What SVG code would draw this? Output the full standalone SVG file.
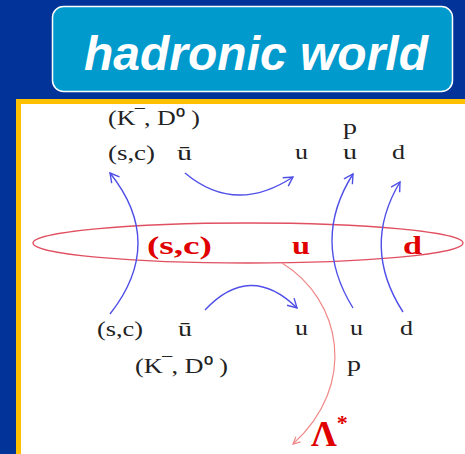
<svg xmlns="http://www.w3.org/2000/svg" width="465" height="454" viewBox="0 0 465 454">
<defs>
<style>
.q{font-family:"Liberation Serif","Times New Roman",serif;font-size:20px;fill:#222;}
.r{font-family:"Liberation Serif","Times New Roman",serif;font-size:25px;font-weight:bold;fill:#e00000;}
.b{fill:none;stroke:#4f4fe8;stroke-width:1.4;}
</style>
<marker id="ab" markerWidth="12" markerHeight="12" refX="10" refY="6" orient="auto" markerUnits="userSpaceOnUse">
<path d="M1,1 L10,6 L1,11" fill="none" stroke="#4f4fe8" stroke-width="1.4"/>
</marker>
<marker id="ar" markerWidth="10" markerHeight="10" refX="8" refY="5" orient="auto" markerUnits="userSpaceOnUse">
<path d="M1,1.5 L8,5 L1,8.5" fill="none" stroke="#f08888" stroke-width="1.2"/>
</marker>
</defs>
<rect x="0" y="0" width="465" height="454" fill="#013399"/>
<g id="title">
<rect x="52.5" y="6.5" width="400" height="85" rx="11" fill="#009acd" stroke="#ffffff" stroke-width="1.5"/>
<text x="256" y="70" text-anchor="middle" font-family="'Liberation Sans',Arial,sans-serif" font-size="48" font-weight="bold" font-style="italic" fill="#ffffff">hadronic world</text>
</g>
<g id="frame">
<rect x="18.5" y="101.5" width="460" height="370" fill="#ffffff" stroke="#ffc000" stroke-width="5"/>
</g>
<g id="connectors">
<ellipse cx="248" cy="243" rx="215" ry="20" fill="none" stroke="#e05060" stroke-width="1.3"/>
<path class="b" d="M110,314 Q166,243 110,173" marker-end="url(#ab)"/>
<path class="b" d="M185,173 Q235,215 293,177" marker-end="url(#ab)"/>
<path class="b" d="M353,308 Q311,240 353,174" marker-end="url(#ab)"/>
<path class="b" d="M403,312 Q361,247 400,182" marker-end="url(#ab)"/>
<path class="b" d="M205,310 Q250,262 297,308" marker-end="url(#ab)"/>
<path d="M282,263 C342,300 358,385 293,444" fill="none" stroke="#f08888" stroke-width="1.2" marker-end="url(#ar)"/>
</g>
<g id="top-meson">
<text class="q" x="108" y="125" textLength="92" lengthAdjust="spacingAndGlyphs">(K‾, D⁰ )</text>
<text class="q" x="108" y="160" textLength="47" lengthAdjust="spacingAndGlyphs">(s,c)</text>
<text class="q" x="177" y="160" textLength="15" lengthAdjust="spacingAndGlyphs">ū</text>
</g>
<g id="top-proton">
<text class="q" x="343" y="134" textLength="14" lengthAdjust="spacingAndGlyphs">p</text>
<text class="q" x="295" y="159" textLength="13" lengthAdjust="spacingAndGlyphs">u</text>
<text class="q" x="343" y="159" textLength="14" lengthAdjust="spacingAndGlyphs">u</text>
<text class="q" x="392" y="159" textLength="13" lengthAdjust="spacingAndGlyphs">d</text>
</g>
<g id="middle">
<text class="r" x="147" y="254" textLength="65" lengthAdjust="spacingAndGlyphs">(s,c)</text>
<text class="r" x="292" y="254" textLength="18" lengthAdjust="spacingAndGlyphs">u</text>
<text class="r" x="403" y="254" textLength="19" lengthAdjust="spacingAndGlyphs">d</text>
</g>
<g id="bottom-meson">
<text class="q" x="97" y="336" textLength="46" lengthAdjust="spacingAndGlyphs">(s,c)</text>
<text class="q" x="178" y="336" textLength="14" lengthAdjust="spacingAndGlyphs">ū</text>
<text class="q" x="135" y="373" textLength="93" lengthAdjust="spacingAndGlyphs">(K‾, D⁰ )</text>
</g>
<g id="bottom-proton">
<text class="q" x="295" y="335" textLength="13" lengthAdjust="spacingAndGlyphs">u</text>
<text class="q" x="350" y="335" textLength="13" lengthAdjust="spacingAndGlyphs">u</text>
<text class="q" x="400" y="335" textLength="13" lengthAdjust="spacingAndGlyphs">d</text>
<text class="q" x="347" y="371" textLength="14" lengthAdjust="spacingAndGlyphs">p</text>
</g>
<g id="lambda">
<text x="311" y="446" font-family="'Liberation Serif','Times New Roman',serif" font-size="36" font-weight="bold" fill="#e00000">Λ<tspan font-size="22" dy="-16">*</tspan></text>
</g>
</svg>
